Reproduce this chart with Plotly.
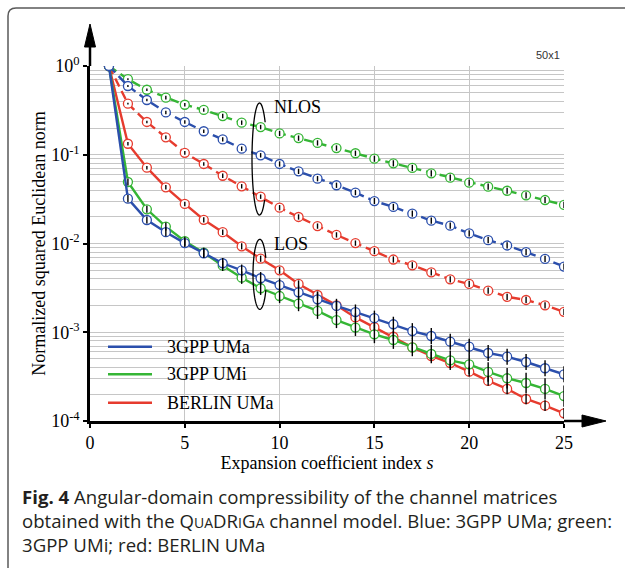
import math
import plotly.graph_objects as go

# Expansion coefficient index
s_index = list(range(1, 26))

series_names = ["3GPP UMa", "3GPP UMi", "BERLIN UMa"]
series_colors = ["#2b4fac", "#35b535", "#e63b2e"]

# LOS scenario (solid lines)
los_uma = [1.0, 0.032, 0.0184, 0.0134, 0.0101, 0.00776, 0.00599, 0.00499, 0.00406, 0.0034,
           0.00282, 0.00235, 0.00198, 0.00169, 0.00144, 0.00123, 0.00103, 0.000907, 0.000783,
           0.000688, 0.000584, 0.000531, 0.000462, 0.000393, 0.000336]
los_umi = [1.0, 0.0493, 0.0243, 0.0155, 0.0106, 0.00787, 0.00562, 0.00412, 0.00313, 0.00256,
           0.0021, 0.00174, 0.00137, 0.00113, 0.000948, 0.000818, 0.000676, 0.000569, 0.000483,
           0.000435, 0.000357, 0.000303, 0.000268, 0.00023, 0.000191]
los_berlin = [1.0, 0.133, 0.0715, 0.043, 0.0279, 0.0185, 0.0134, 0.0093, 0.00674, 0.00499,
              0.0035, 0.00263, 0.00201, 0.00147, 0.00114, 0.00089, 0.000676, 0.00054, 0.00045,
              0.00036, 0.000283, 0.00023, 0.000177, 0.000149, 0.000122]

# NLOS scenario (dashed lines)
nlos_uma = [1.0, 0.595, 0.414, 0.30, 0.234, 0.184, 0.149, 0.117, 0.0986, 0.0787, 0.065, 0.0537,
            0.0453, 0.0375, 0.0301, 0.0258, 0.0217, 0.0181, 0.0159, 0.0130, 0.0109, 0.0095,
            0.0080, 0.0067, 0.0055]
nlos_umi = [1.0, 0.71, 0.54, 0.44, 0.366, 0.32, 0.273, 0.23, 0.205, 0.174, 0.154, 0.136, 0.119,
            0.104, 0.0903, 0.080, 0.071, 0.0618, 0.0552, 0.0485, 0.0437, 0.0393, 0.0349, 0.0309,
            0.0272]
nlos_berlin = [1.0, 0.376, 0.234, 0.157, 0.105, 0.0787, 0.058, 0.0441, 0.0337, 0.0253, 0.0199,
               0.0157, 0.0125, 0.0101, 0.0082, 0.0066, 0.00568, 0.00473, 0.00395, 0.0035,
               0.00294, 0.00251, 0.00231, 0.00201, 0.0017]

# Spread across channel realisations (half-width in decades)
los_err_uma = [0, .04, .04, .045, .045, .05, .06, .065, .07, .075, .075, .08, .08, .085, .085,
               .085, .09, .09, .09, .09, .09, .09, .09, .09, .09]
los_err_umi = [0, .04, .04, .045, .05, .055, .06, .07, .075, .08, .085, .09, .09, .095, .1, .1,
               .1, .105, .11, .11, .11, .115, .115, .12, .12]
los_err_berlin = [0, .02, .02, .025, .025, .03, .03, .035, .035, .04, .04, .04, .045, .045, .045,
                  .05, .05, .05, .055, .055, .055, .06, .06, .06, .06]
nlos_err = [0, .01, .015, .02, .02, .02, .025, .025, .025, .03, .03, .03, .03, .03, .035, .035,
            .035, .035, .035, .035, .035, .035, .035, .035, .035]

y_tickvals = [1e-4, 1e-3, 1e-2, 1e-1, 1e0]
y_ticktext = ["10<sup>-4</sup>", "10<sup>-3</sup>", "10<sup>-2</sup>", "10<sup>-1</sup>", "10<sup>0</sup>"]
x_tickvals = [0, 5, 10, 15, 20, 25]

W, H = 625, 568
ML, MR, MT, MB = 90, 61, 66, 147
PW, PH = W - ML - MR, H - MT - MB


def px(x):
    return (x - ML) / PW


def py(y):
    return (H - MB - y) / PH


SERIF = "Liberation Serif"

fig = go.Figure()

curves = [
    (nlos_umi, nlos_err, series_colors[1], "9px,5px"),
    (nlos_berlin, nlos_err, series_colors[2], "9px,5px"),
    (nlos_uma, nlos_err, series_colors[0], "9px,5px"),
    (los_berlin, los_err_berlin, series_colors[2], "solid"),
    (los_umi, los_err_umi, series_colors[1], "solid"),
    (los_uma, los_err_uma, series_colors[0], "solid"),
]

# curves with open circle markers
for y, err, color, dash in curves:
    fig.add_trace(go.Scatter(
        x=s_index, y=y, mode="lines+markers", showlegend=False,
        line=dict(color=color, width=2.4, dash=dash),
        marker=dict(symbol="circle", size=9, color="white", line=dict(color=color, width=1.3)),
    ))

# spread bars drawn over the markers
for y, err, color, dash in curves:
    plus = [v * (10 ** d - 1) for v, d in zip(y, err)]
    minus = [v * (1 - 10 ** -d) for v, d in zip(y, err)]
    fig.add_trace(go.Scatter(
        x=s_index, y=y, mode="markers", showlegend=False, hoverinfo="skip",
        marker=dict(size=1, color="rgba(0,0,0,0)"),
        error_y=dict(type="data", symmetric=False, array=plus, arrayminus=minus,
                     color="black", thickness=1.4, width=0),
    ))

shapes = []

# figure frame with rounded corner
shapes.append(dict(type="path", xref="paper", yref="paper",
                   path=f"M{px(8)},{py(700)} L{px(8)},{py(16)} Q{px(8)},{py(8)} {px(16)},{py(8)} L{px(700)},{py(8)}",
                   line=dict(color="#5a5a5a", width=1.5)))

# axis arrows
shapes.append(dict(type="line", xref="paper", yref="paper", x0=0, x1=0, y0=1, y1=py(44),
                   line=dict(color="black", width=2.5)))
shapes.append(dict(type="path", xref="paper", yref="paper",
                   path=f"M{px(90)},{py(24)} L{px(84.5)},{py(47)} L{px(95.5)},{py(47)} Z",
                   fillcolor="black", line=dict(color="black", width=1)))
shapes.append(dict(type="line", xref="paper", yref="paper", x0=1, x1=px(585), y0=0, y1=0,
                   line=dict(color="black", width=2.5)))
shapes.append(dict(type="path", xref="paper", yref="paper",
                   path=f"M{px(606)},{py(421)} L{px(582)},{py(415)} L{px(582)},{py(427)} Z",
                   fillcolor="black", line=dict(color="black", width=1)))


def loop_path(cx, cy, rx, ry, a0, a1, n=80):
    pts = []
    for i in range(n + 1):
        a = math.radians(a0 + (a1 - a0) * i / n)
        pts.append((px(cx + rx * math.cos(a)), py(cy - ry * math.sin(a))))
    return "M" + " L".join(f"{x:.5f},{y:.5f}" for x, y in pts)


shapes.append(dict(type="path", xref="paper", yref="paper",
                   path=loop_path(259.5, 159, 7.5, 56, 41, 313), line=dict(color="black", width=1.3)))
shapes.append(dict(type="path", xref="paper", yref="paper",
                   path=loop_path(259.8, 274.3, 6.8, 35, 28, 333), line=dict(color="black", width=1.3)))

# legend box
shapes.append(dict(type="rect", xref="paper", yref="paper", layer="between",
                   x0=px(93), x1=px(290), y0=py(419), y1=py(333),
                   fillcolor="white", line=dict(width=0)))

annotations = []
leg_rows = [346.7, 374.3, 402.7]
for name, col, yy in zip(series_names, series_colors, leg_rows):
    shapes.append(dict(type="line", xref="paper", yref="paper", x0=px(108), x1=px(152),
                       y0=py(yy), y1=py(yy), line=dict(color=col, width=2.4)))
    annotations.append(dict(xref="paper", yref="paper", x=px(165), y=py(yy), text=name,
                            showarrow=False, xanchor="left", yanchor="middle",
                            font=dict(family=SERIF, size=18, color="black")))

annotations.append(dict(xref="paper", yref="paper", x=px(272), y=py(107), text="NLOS",
                        showarrow=False, xanchor="left", yanchor="middle",
                        font=dict(family=SERIF, size=18, color="black")))
annotations.append(dict(xref="paper", yref="paper", x=px(272), y=py(244), text="LOS",
                        showarrow=False, xanchor="left", yanchor="middle",
                        font=dict(family=SERIF, size=18, color="black")))
annotations.append(dict(xref="paper", yref="paper", x=px(562), y=py(55), text="50x1",
                        showarrow=False, xanchor="right", yanchor="middle",
                        font=dict(family="Liberation Sans", size=11, color="#333333")))

sc = "font-size:14px"
caption = [
    "<b>Fig. 4</b> Angular-domain compressibility of the channel matrices",
    f"obtained with the Q<span style='{sc}'>UA</span>DR<span style='{sc}'>I</span>G<span style='{sc}'>A</span> channel model. Blue: 3GPP UMa; green:",
    "3GPP UMi; red: BERLIN UMa",
]
for line, yy in zip(caption, [496, 520, 544]):
    annotations.append(dict(xref="paper", yref="paper", x=px(20), y=py(yy), text=line,
                            showarrow=False, xanchor="left", yanchor="middle",
                            font=dict(family="Open Sans", size=18.6, color="#231f20")))

grid_col = "#c6c6c6"
fig.update_layout(
    width=W, height=H,
    margin=dict(l=ML, r=MR, t=MT, b=MB),
    paper_bgcolor="white", plot_bgcolor="white",
    showlegend=False,
    shapes=shapes, annotations=annotations,
    xaxis=dict(range=[0, 25], tickmode="array", tickvals=x_tickvals,
               showgrid=True, gridcolor=grid_col, gridwidth=1.2, zeroline=False,
               showline=True, linecolor="black", linewidth=2.5,
               ticks="outside", ticklen=4, tickwidth=1.5, tickcolor="black",
               tickfont=dict(family=SERIF, size=18, color="black"),
               title=dict(text="Expansion coefficient index <i>s</i>", standoff=0,
                          font=dict(family=SERIF, size=18, color="black"))),
    yaxis=dict(type="log", range=[-4, 0], tickmode="array", tickvals=y_tickvals,
               ticktext=y_ticktext,
               showgrid=True, gridcolor=grid_col, gridwidth=1.2, zeroline=False,
               showline=True, linecolor="black", linewidth=2.5,
               ticks="outside", ticklen=4, tickwidth=1.5, tickcolor="black",
               tickfont=dict(family=SERIF, size=18, color="black"),
               minor=dict(dtick="D1", showgrid=True, gridcolor=grid_col, gridwidth=1.2, ticks=""),
               title=dict(text="Normalized squared Euclidean norm", standoff=1,
                          font=dict(family=SERIF, size=18, color="black"))),
)

fig.write_html("out.html")
